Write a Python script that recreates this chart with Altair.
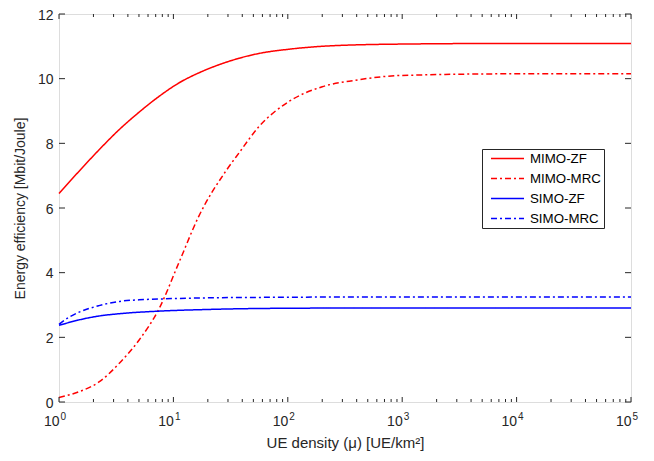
import altair as alt
import pandas as pd

# ---- data ----
series_names = ["MIMO-ZF", "MIMO-MRC", "SIMO-ZF", "SIMO-MRC"]

mimo_zf_x = [1, 1.5, 2.24, 3.35, 5.0, 7.48, 11.2, 16.7, 25, 37.4, 56, 102, 250, 1000, 10000, 100000]
mimo_zf_y = [6.45, 7.14, 7.80, 8.42, 8.96, 9.45, 9.87, 10.18, 10.43, 10.63, 10.78, 10.91, 11.02, 11.07, 11.09, 11.09]

mimo_mrc_x = [1, 1.5, 2.24, 3.35, 5.0, 7.48, 11.2, 16.7, 28.7, 37.4, 56, 102, 200, 387, 1000, 10000, 100000]
mimo_mrc_y = [0.14, 0.32, 0.62, 1.19, 1.91, 2.88, 4.32, 5.75, 7.14, 7.70, 8.52, 9.29, 9.75, 9.95, 10.1, 10.15, 10.15]

simo_zf_x = [1, 1.5, 2.24, 3.35, 7.48, 19, 102, 1000, 100000]
simo_zf_y = [2.37, 2.54, 2.66, 2.73, 2.81, 2.86, 2.90, 2.91, 2.91]

simo_mrc_x = [1, 1.22, 1.5, 2.24, 3.35, 5.0, 8.3, 19, 102, 1000, 100000]
simo_mrc_y = [2.40, 2.62, 2.78, 2.98, 3.11, 3.16, 3.19, 3.22, 3.24, 3.25, 3.25]

x_major = [1, 10, 100, 1000, 10000, 100000]
x_exponents = ["0", "1", "2", "3", "4", "5"]
x_minor_mult = [2, 3, 4, 5, 6, 7, 8, 9]
y_ticks = [0, 2, 4, 6, 8, 10, 12]

x_title = "UE density (μ) [UE/km²]"
y_title = "Energy efficiency [Mbit/Joule]"

# ---- tables ----
rows = []
for name, xs, ys in [
    ("MIMO-ZF", mimo_zf_x, mimo_zf_y),
    ("MIMO-MRC", mimo_mrc_x, mimo_mrc_y),
    ("SIMO-ZF", simo_zf_x, simo_zf_y),
    ("SIMO-MRC", simo_mrc_x, simo_mrc_y),
]:
    for i, (a, b) in enumerate(zip(xs, ys)):
        rows.append({"x": a, "y": b, "series": name, "order": i})
df = pd.DataFrame(rows)

major_df = pd.DataFrame({"x": x_major, "exp": x_exponents})
minor_df = pd.DataFrame({"x": [m * d for d in x_major[:-1] for m in x_minor_mult]})
ytick_df = pd.DataFrame({"y": y_ticks})

W, H = 572, 388
INK = "#262626"
FONT = "Liberation Sans"

xscale = alt.Scale(type="log", domain=[1, 100000], nice=False)
yscale = alt.Scale(domain=[0, 12], nice=False)

xaxis = alt.Axis(values=x_major, labelExpr="'10'", labelAlign="right",
                 labelFontSize=14, labelColor=INK, labelPadding=12,
                 labelFont=FONT, ticks=False, domain=False, grid=False,
                 title=x_title, titleFontSize=15, titleFontWeight="normal",
                 titleColor=INK, titleFont=FONT, titlePadding=7)
yaxis = alt.Axis(values=y_ticks, labelFontSize=14, labelColor=INK,
                 labelPadding=6, labelOffset=1, labelFont=FONT, ticks=False,
                 domain=False, grid=False, title=y_title, titleFontSize=14,
                 titleFontWeight="normal", titleColor=INK, titleFont=FONT,
                 titlePadding=10)

legend = alt.Legend(title=None, orient="none", legendX=423, legendY=135,
                    strokeColor=INK, fillColor="white", padding=3,
                    symbolType="stroke", symbolSize=1089, symbolStrokeWidth=1.5,
                    symbolOffset=5, clipHeight=13, rowPadding=6,
                    labelFontSize=13.3, labelFont=FONT, labelColor="#000000",
                    labelOffset=5, cornerRadius=0)

lines = alt.Chart(df).mark_line(strokeWidth=1.5, interpolate="monotone").encode(
    x=alt.X("x:Q", scale=xscale, axis=xaxis),
    y=alt.Y("y:Q", scale=yscale, axis=yaxis),
    color=alt.Color("series:N",
                    scale=alt.Scale(domain=series_names,
                                    range=["#ff0000", "#ff0000", "#0000ff", "#0000ff"]),
                    legend=legend),
    strokeDash=alt.StrokeDash("series:N",
                              scale=alt.Scale(domain=series_names,
                                              range=[[1, 0], [6, 3, 2, 3], [1, 0], [6, 3, 2, 3]]),
                              legend=legend),
    order="order:Q",
)

exps = alt.Chart(major_df).mark_text(align="left", baseline="top", fontSize=10,
                                     font=FONT, color=INK, dx=1.5).encode(
    x=alt.X("x:Q", scale=xscale, axis=xaxis),
    y=alt.value(H + 10),
    text="exp:N",
)

def xticks(data, y0, y1):
    return alt.Chart(data).mark_rule(color=INK, strokeWidth=1).encode(
        x=alt.X("x:Q", scale=xscale, axis=xaxis),
        y=alt.value(y0), y2=alt.value(y1))

def yticks(x0, x1):
    return alt.Chart(ytick_df).mark_rule(color=INK, strokeWidth=1).encode(
        y=alt.Y("y:Q", scale=yscale, axis=yaxis),
        x=alt.value(x0), x2=alt.value(x1))

chart = alt.layer(
    lines,
    xticks(major_df, H, H - 5), xticks(major_df, 0, 5),
    xticks(minor_df, H, H - 3), xticks(minor_df, 0, 3),
    yticks(0, 6), yticks(W, W - 6),
    exps,
).properties(
    width=W, height=H,
    autosize=alt.AutoSizeParams(type="none"),
    padding={"left": 51, "top": 6, "right": 10, "bottom": 50},
).configure_view(
    stroke=INK, strokeWidth=1
).configure(background="white")

chart.save("out.html", embed_options={"renderer": "svg", "actions": False})
